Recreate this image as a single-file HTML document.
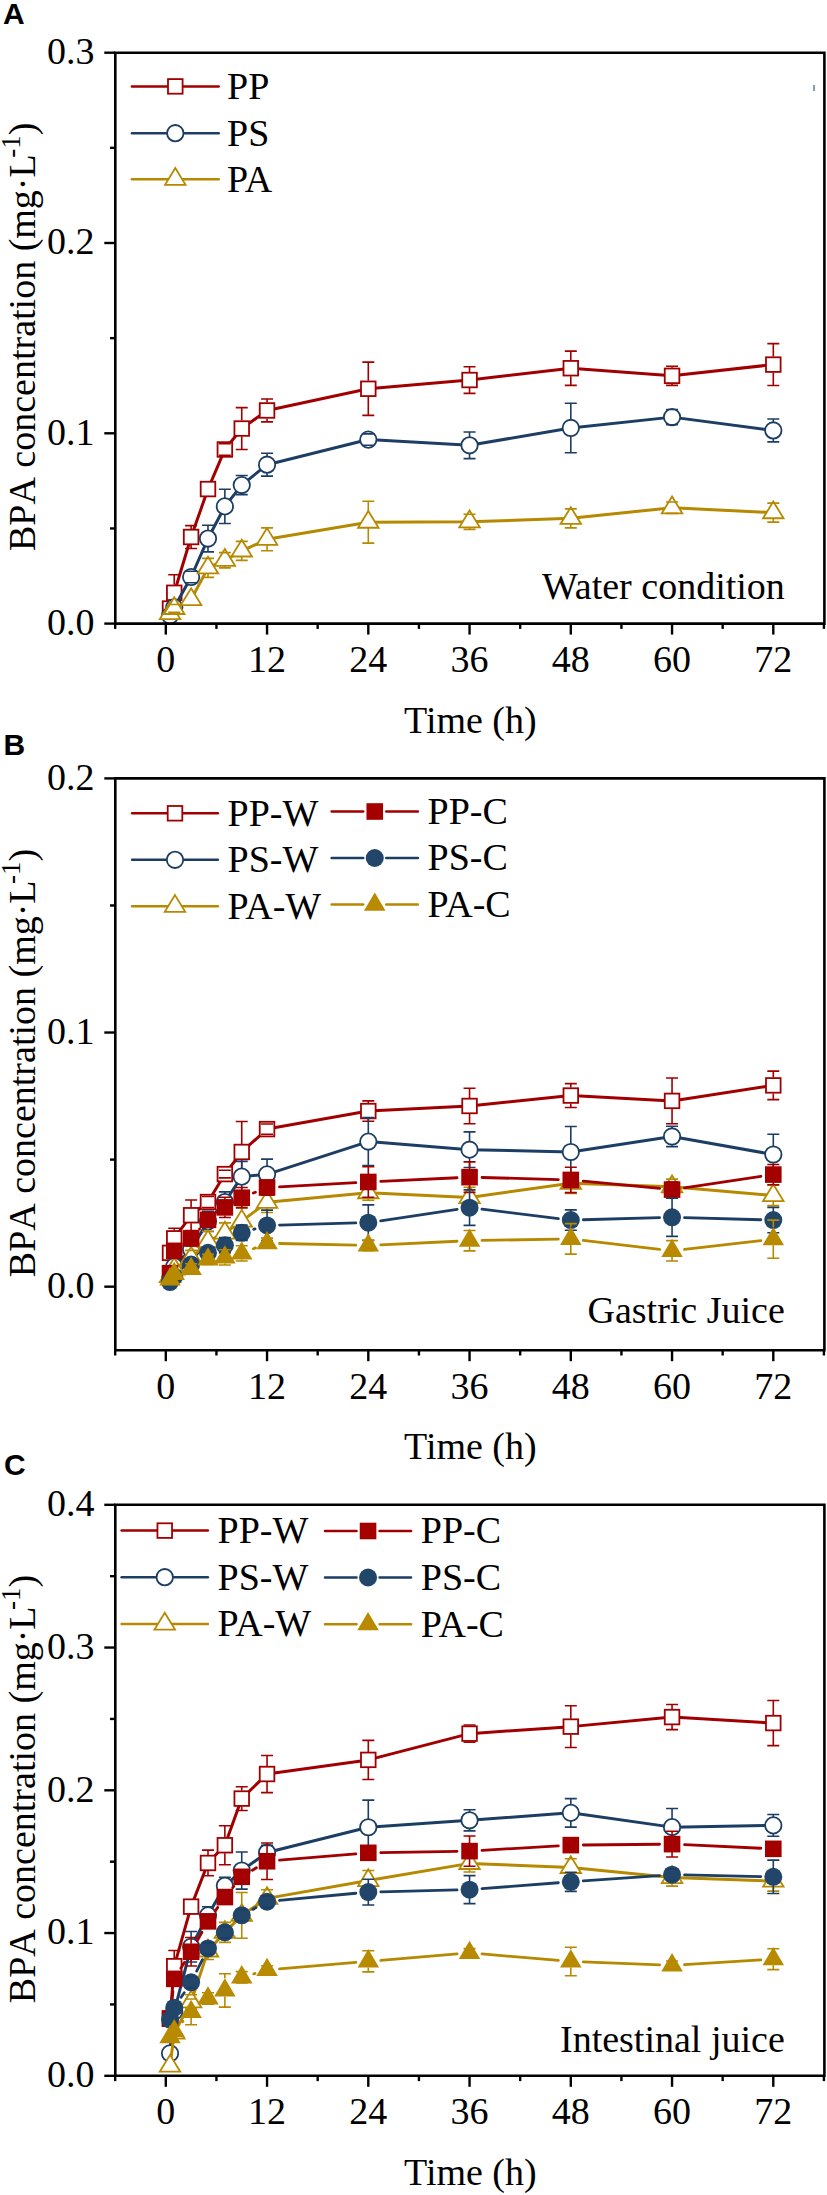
<!DOCTYPE html><html><head><meta charset="utf-8"><style>html,body{margin:0;padding:0;background:#fff;width:827px;height:2195px;overflow:hidden}svg{display:block}.nk{font-kerning:none;font-feature-settings:"kern" 0}</style></head><body>
<svg width="827" height="2195" viewBox="0 0 827 2195">
<rect width="827" height="2195" fill="#fff"/>
<path d="M170.02 608.57 L174.24 592.77 L191.11 537.01 L207.99 489.06 L224.86 449.48 L241.74 428.54 L267.05 410.46 L368.30 388.77 L469.55 380.02 L570.80 368.22 L672.05 375.83 L773.30 364.60" stroke="#a20000" stroke-width="3.0" fill="none" stroke-linejoin="round"/>
<rect x="162.72" y="601.27" width="14.60" height="14.60" fill="#fff" stroke="#a20000" stroke-width="1.8"/>
<rect x="166.94" y="585.47" width="14.60" height="14.60" fill="#fff" stroke="#a20000" stroke-width="1.8"/>
<rect x="183.81" y="529.71" width="14.60" height="14.60" fill="#fff" stroke="#a20000" stroke-width="1.8"/>
<rect x="200.69" y="481.76" width="14.60" height="14.60" fill="#fff" stroke="#a20000" stroke-width="1.8"/>
<rect x="217.56" y="442.18" width="14.60" height="14.60" fill="#fff" stroke="#a20000" stroke-width="1.8"/>
<rect x="234.44" y="421.24" width="14.60" height="14.60" fill="#fff" stroke="#a20000" stroke-width="1.8"/>
<rect x="259.75" y="403.16" width="14.60" height="14.60" fill="#fff" stroke="#a20000" stroke-width="1.8"/>
<rect x="361.00" y="381.47" width="14.60" height="14.60" fill="#fff" stroke="#a20000" stroke-width="1.8"/>
<rect x="462.25" y="372.72" width="14.60" height="14.60" fill="#fff" stroke="#a20000" stroke-width="1.8"/>
<rect x="563.50" y="360.92" width="14.60" height="14.60" fill="#fff" stroke="#a20000" stroke-width="1.8"/>
<rect x="664.75" y="368.53" width="14.60" height="14.60" fill="#fff" stroke="#a20000" stroke-width="1.8"/>
<rect x="766.00" y="357.30" width="14.60" height="14.60" fill="#fff" stroke="#a20000" stroke-width="1.8"/>
<path d="M168.24 574.69H180.24M168.24 610.85H180.24M174.24 574.69V584.77M174.24 600.77V610.85" stroke="#a20000" stroke-width="1.6" fill="none"/>
<path d="M185.11 525.60H197.11M185.11 548.43H197.11M191.11 525.60V529.01M191.11 545.01V548.43" stroke="#a20000" stroke-width="1.6" fill="none"/>
<path d="M218.86 443.77H230.86M218.86 455.18H230.86" stroke="#a20000" stroke-width="1.6" fill="none"/>
<path d="M235.74 407.61H247.74M235.74 449.48H247.74M241.74 407.61V420.54M241.74 436.54V449.48" stroke="#a20000" stroke-width="1.6" fill="none"/>
<path d="M261.05 399.05H273.05M261.05 421.88H273.05M267.05 399.05V402.46M267.05 418.46V421.88" stroke="#a20000" stroke-width="1.6" fill="none"/>
<path d="M362.30 362.13H374.30M362.30 415.41H374.30M368.30 362.13V380.77M368.30 396.77V415.41" stroke="#a20000" stroke-width="1.6" fill="none"/>
<path d="M463.55 366.69H475.55M463.55 393.34H475.55M469.55 366.69V372.02M469.55 388.02V393.34" stroke="#a20000" stroke-width="1.6" fill="none"/>
<path d="M564.80 351.09H576.80M564.80 385.34H576.80M570.80 351.09V360.22M570.80 376.22V385.34" stroke="#a20000" stroke-width="1.6" fill="none"/>
<path d="M666.05 366.31H678.05M666.05 385.34H678.05M672.05 366.31V367.83M672.05 383.83V385.34" stroke="#a20000" stroke-width="1.6" fill="none"/>
<path d="M767.30 343.67H779.30M767.30 385.53H779.30M773.30 343.67V356.60M773.30 372.60V385.53" stroke="#a20000" stroke-width="1.6" fill="none"/>
<path d="M170.02 615.61 L174.24 607.42 L191.11 576.98 L207.99 538.54 L224.86 506.38 L241.74 485.06 L267.05 464.70 L368.30 439.58 L469.55 445.29 L570.80 427.97 L672.05 417.12 L773.30 430.45" stroke="#1c3e64" stroke-width="3.0" fill="none" stroke-linejoin="round"/>
<circle cx="170.02" cy="615.61" r="8.2" fill="#fff" stroke="#1c3e64" stroke-width="1.8"/>
<circle cx="174.24" cy="607.42" r="8.2" fill="#fff" stroke="#1c3e64" stroke-width="1.8"/>
<circle cx="191.11" cy="576.98" r="8.2" fill="#fff" stroke="#1c3e64" stroke-width="1.8"/>
<circle cx="207.99" cy="538.54" r="8.2" fill="#fff" stroke="#1c3e64" stroke-width="1.8"/>
<circle cx="224.86" cy="506.38" r="8.2" fill="#fff" stroke="#1c3e64" stroke-width="1.8"/>
<circle cx="241.74" cy="485.06" r="8.2" fill="#fff" stroke="#1c3e64" stroke-width="1.8"/>
<circle cx="267.05" cy="464.70" r="8.2" fill="#fff" stroke="#1c3e64" stroke-width="1.8"/>
<circle cx="368.30" cy="439.58" r="8.2" fill="#fff" stroke="#1c3e64" stroke-width="1.8"/>
<circle cx="469.55" cy="445.29" r="8.2" fill="#fff" stroke="#1c3e64" stroke-width="1.8"/>
<circle cx="570.80" cy="427.97" r="8.2" fill="#fff" stroke="#1c3e64" stroke-width="1.8"/>
<circle cx="672.05" cy="417.12" r="8.2" fill="#fff" stroke="#1c3e64" stroke-width="1.8"/>
<circle cx="773.30" cy="430.45" r="8.2" fill="#fff" stroke="#1c3e64" stroke-width="1.8"/>
<path d="M185.11 571.27H197.11M185.11 582.69H197.11" stroke="#1c3e64" stroke-width="1.6" fill="none"/>
<path d="M201.99 525.21H213.99M201.99 551.86H213.99M207.99 525.21V530.54M207.99 546.54V551.86" stroke="#1c3e64" stroke-width="1.6" fill="none"/>
<path d="M218.86 489.25H230.86M218.86 523.50H230.86M224.86 489.25V498.38M224.86 514.38V523.50" stroke="#1c3e64" stroke-width="1.6" fill="none"/>
<path d="M235.74 475.55H247.74M235.74 494.58H247.74M241.74 475.55V477.06M241.74 493.06V494.58" stroke="#1c3e64" stroke-width="1.6" fill="none"/>
<path d="M261.05 453.28H273.05M261.05 476.12H273.05M267.05 453.28V456.70M267.05 472.70V476.12" stroke="#1c3e64" stroke-width="1.6" fill="none"/>
<path d="M362.30 433.87H374.30M362.30 445.29H374.30" stroke="#1c3e64" stroke-width="1.6" fill="none"/>
<path d="M463.55 431.97H475.55M463.55 458.61H475.55M469.55 431.97V437.29M469.55 453.29V458.61" stroke="#1c3e64" stroke-width="1.6" fill="none"/>
<path d="M564.80 403.23H576.80M564.80 452.71H576.80M570.80 403.23V419.97M570.80 435.97V452.71" stroke="#1c3e64" stroke-width="1.6" fill="none"/>
<path d="M666.05 409.51H678.05M666.05 424.74H678.05" stroke="#1c3e64" stroke-width="1.6" fill="none"/>
<path d="M767.30 419.03H779.30M767.30 441.86H779.30M773.30 419.03V422.45M773.30 438.45V441.86" stroke="#1c3e64" stroke-width="1.6" fill="none"/>
<path d="M170.02 613.51 L174.24 608.38 L191.11 599.43 L207.99 567.84 L224.86 560.23 L241.74 550.91 L267.05 539.30 L368.30 522.17 L469.55 521.79 L570.80 518.36 L672.05 507.71 L773.30 512.66" stroke="#b68900" stroke-width="3.0" fill="none" stroke-linejoin="round"/>
<path d="M170.02 602.31L180.27 619.11H159.77Z" fill="#fff" stroke="#b68900" stroke-width="1.8" stroke-linejoin="miter"/>
<path d="M174.24 597.18L184.49 613.98H163.99Z" fill="#fff" stroke="#b68900" stroke-width="1.8" stroke-linejoin="miter"/>
<path d="M191.11 588.23L201.36 605.03H180.86Z" fill="#fff" stroke="#b68900" stroke-width="1.8" stroke-linejoin="miter"/>
<path d="M207.99 556.64L218.24 573.44H197.74Z" fill="#fff" stroke="#b68900" stroke-width="1.8" stroke-linejoin="miter"/>
<path d="M224.86 549.03L235.11 565.83H214.61Z" fill="#fff" stroke="#b68900" stroke-width="1.8" stroke-linejoin="miter"/>
<path d="M241.74 539.71L251.99 556.51H231.49Z" fill="#fff" stroke="#b68900" stroke-width="1.8" stroke-linejoin="miter"/>
<path d="M267.05 528.10L277.30 544.90H256.80Z" fill="#fff" stroke="#b68900" stroke-width="1.8" stroke-linejoin="miter"/>
<path d="M368.30 510.97L378.55 527.77H358.05Z" fill="#fff" stroke="#b68900" stroke-width="1.8" stroke-linejoin="miter"/>
<path d="M469.55 510.59L479.80 527.39H459.30Z" fill="#fff" stroke="#b68900" stroke-width="1.8" stroke-linejoin="miter"/>
<path d="M570.80 507.16L581.05 523.96H560.55Z" fill="#fff" stroke="#b68900" stroke-width="1.8" stroke-linejoin="miter"/>
<path d="M672.05 496.51L682.30 513.31H661.80Z" fill="#fff" stroke="#b68900" stroke-width="1.8" stroke-linejoin="miter"/>
<path d="M773.30 501.46L783.55 518.26H763.05Z" fill="#fff" stroke="#b68900" stroke-width="1.8" stroke-linejoin="miter"/>
<path d="M168.24 604.57H180.24M168.24 612.18H180.24" stroke="#b68900" stroke-width="1.6" fill="none"/>
<path d="M201.99 558.33H213.99M201.99 577.36H213.99M207.99 573.44V577.36" stroke="#b68900" stroke-width="1.6" fill="none"/>
<path d="M218.86 552.62H230.86M218.86 567.84H230.86M224.86 565.83V567.84" stroke="#b68900" stroke-width="1.6" fill="none"/>
<path d="M235.74 541.39H247.74M235.74 560.42H247.74M241.74 556.51V560.42" stroke="#b68900" stroke-width="1.6" fill="none"/>
<path d="M261.05 527.88H273.05M261.05 550.72H273.05M267.05 527.88V528.10M267.05 544.90V550.72" stroke="#b68900" stroke-width="1.6" fill="none"/>
<path d="M362.30 501.24H374.30M362.30 543.10H374.30M368.30 501.24V510.97M368.30 527.77V543.10" stroke="#b68900" stroke-width="1.6" fill="none"/>
<path d="M463.55 514.18H475.55M463.55 529.40H475.55M469.55 527.39V529.40" stroke="#b68900" stroke-width="1.6" fill="none"/>
<path d="M564.80 508.85H576.80M564.80 527.88H576.80M570.80 523.96V527.88" stroke="#b68900" stroke-width="1.6" fill="none"/>
<path d="M666.05 502.00H678.05M666.05 513.42H678.05M672.05 513.31V513.42" stroke="#b68900" stroke-width="1.6" fill="none"/>
<path d="M767.30 503.14H779.30M767.30 522.17H779.30M773.30 518.26V522.17" stroke="#b68900" stroke-width="1.6" fill="none"/>
<path d="M115.3 52.7H824.4V623.6H115.3Z" stroke="#000" stroke-width="2.6" fill="none"/>
<path d="M104.30 623.60H115.3" stroke="#000" stroke-width="2.4"/>
<text x="94.5" y="634.90" text-anchor="end" font-family="Liberation Serif" font-size="38">0.0</text>
<path d="M110.00 528.45H115.3" stroke="#000" stroke-width="2.4"/>
<path d="M104.30 433.30H115.3" stroke="#000" stroke-width="2.4"/>
<text x="94.5" y="444.60" text-anchor="end" font-family="Liberation Serif" font-size="38">0.1</text>
<path d="M110.00 338.15H115.3" stroke="#000" stroke-width="2.4"/>
<path d="M104.30 243.00H115.3" stroke="#000" stroke-width="2.4"/>
<text x="94.5" y="254.30" text-anchor="end" font-family="Liberation Serif" font-size="38">0.2</text>
<path d="M110.00 147.85H115.3" stroke="#000" stroke-width="2.4"/>
<path d="M104.30 52.70H115.3" stroke="#000" stroke-width="2.4"/>
<text x="94.5" y="64.00" text-anchor="end" font-family="Liberation Serif" font-size="38">0.3</text>
<path d="M115.18 623.6V628.90" stroke="#000" stroke-width="2.4"/>
<path d="M165.80 623.6V634.60" stroke="#000" stroke-width="2.4"/>
<text x="165.80" y="672.20" text-anchor="middle" font-family="Liberation Serif" font-size="38">0</text>
<path d="M216.43 623.6V628.90" stroke="#000" stroke-width="2.4"/>
<path d="M267.05 623.6V634.60" stroke="#000" stroke-width="2.4"/>
<text x="267.05" y="672.20" text-anchor="middle" font-family="Liberation Serif" font-size="38">12</text>
<path d="M317.68 623.6V628.90" stroke="#000" stroke-width="2.4"/>
<path d="M368.30 623.6V634.60" stroke="#000" stroke-width="2.4"/>
<text x="368.30" y="672.20" text-anchor="middle" font-family="Liberation Serif" font-size="38">24</text>
<path d="M418.93 623.6V628.90" stroke="#000" stroke-width="2.4"/>
<path d="M469.55 623.6V634.60" stroke="#000" stroke-width="2.4"/>
<text x="469.55" y="672.20" text-anchor="middle" font-family="Liberation Serif" font-size="38">36</text>
<path d="M520.17 623.6V628.90" stroke="#000" stroke-width="2.4"/>
<path d="M570.80 623.6V634.60" stroke="#000" stroke-width="2.4"/>
<text x="570.80" y="672.20" text-anchor="middle" font-family="Liberation Serif" font-size="38">48</text>
<path d="M621.42 623.6V628.90" stroke="#000" stroke-width="2.4"/>
<path d="M672.05 623.6V634.60" stroke="#000" stroke-width="2.4"/>
<text x="672.05" y="672.20" text-anchor="middle" font-family="Liberation Serif" font-size="38">60</text>
<path d="M722.67 623.6V628.90" stroke="#000" stroke-width="2.4"/>
<path d="M773.30 623.6V634.60" stroke="#000" stroke-width="2.4"/>
<text x="773.30" y="672.20" text-anchor="middle" font-family="Liberation Serif" font-size="38">72</text>
<path d="M823.92 623.6V628.90" stroke="#000" stroke-width="2.4"/>
<text x="470.35" y="732.60" text-anchor="middle" font-family="Liberation Serif" font-size="38">Time (h)</text>
<text class="nk" transform="translate(35.3 336.85) rotate(-90)" text-anchor="middle" font-family="Liberation Serif" font-size="38">BPA concentration (mg·L<tspan dx="-3.5" dy="-15.5" font-size="27">-1</tspan><tspan dy="15">)</tspan></text>
<text x="3" y="23.60" font-family="Liberation Sans" font-weight="bold" font-size="30">A</text>
<text x="542.00" y="598.50" font-family="Liberation Serif" font-size="38">Water condition</text>
<path d="M131.9 86.4H218.7" stroke="#a20000" stroke-width="2.5" stroke-linecap="round"/>
<rect x="168.00" y="79.10" width="14.60" height="14.60" fill="#fff" stroke="#a20000" stroke-width="1.8"/>
<text x="227" y="98.70" font-family="Liberation Serif" font-size="38">PP</text>
<path d="M131.9 133.2H218.7" stroke="#1c3e64" stroke-width="2.5" stroke-linecap="round"/>
<circle cx="175.30" cy="133.20" r="8.2" fill="#fff" stroke="#1c3e64" stroke-width="1.8"/>
<text x="227" y="145.50" font-family="Liberation Serif" font-size="38">PS</text>
<path d="M131.9 179.2H218.7" stroke="#b68900" stroke-width="2.5" stroke-linecap="round"/>
<path d="M175.30 168.00L185.55 184.80H165.05Z" fill="#fff" stroke="#b68900" stroke-width="1.8" stroke-linejoin="miter"/>
<text x="227" y="191.50" font-family="Liberation Serif" font-size="38">PA</text>
<path d="M814 85V91" stroke="#1c3e64" stroke-width="1"/>
<path d="M170.02 1252.87 L174.24 1238.38 L191.11 1215.26 L207.99 1202.04 L224.86 1174.09 L241.74 1151.98 L267.05 1129.10 L368.30 1111.06 L469.55 1105.98 L570.80 1095.56 L672.05 1100.90 L773.30 1085.39" stroke="#a20000" stroke-width="3.0" fill="none" stroke-linejoin="round"/>
<rect x="162.72" y="1245.57" width="14.60" height="14.60" fill="#fff" stroke="#a20000" stroke-width="1.8"/>
<rect x="166.94" y="1231.08" width="14.60" height="14.60" fill="#fff" stroke="#a20000" stroke-width="1.8"/>
<rect x="183.81" y="1207.96" width="14.60" height="14.60" fill="#fff" stroke="#a20000" stroke-width="1.8"/>
<rect x="200.69" y="1194.74" width="14.60" height="14.60" fill="#fff" stroke="#a20000" stroke-width="1.8"/>
<rect x="217.56" y="1166.79" width="14.60" height="14.60" fill="#fff" stroke="#a20000" stroke-width="1.8"/>
<rect x="234.44" y="1144.68" width="14.60" height="14.60" fill="#fff" stroke="#a20000" stroke-width="1.8"/>
<rect x="259.75" y="1121.80" width="14.60" height="14.60" fill="#fff" stroke="#a20000" stroke-width="1.8"/>
<rect x="361.00" y="1103.76" width="14.60" height="14.60" fill="#fff" stroke="#a20000" stroke-width="1.8"/>
<rect x="462.25" y="1098.68" width="14.60" height="14.60" fill="#fff" stroke="#a20000" stroke-width="1.8"/>
<rect x="563.50" y="1088.26" width="14.60" height="14.60" fill="#fff" stroke="#a20000" stroke-width="1.8"/>
<rect x="664.75" y="1093.60" width="14.60" height="14.60" fill="#fff" stroke="#a20000" stroke-width="1.8"/>
<rect x="766.00" y="1078.09" width="14.60" height="14.60" fill="#fff" stroke="#a20000" stroke-width="1.8"/>
<path d="M168.24 1228.22H180.24M168.24 1248.55H180.24M174.24 1228.22V1230.38M174.24 1246.38V1248.55" stroke="#a20000" stroke-width="1.6" fill="none"/>
<path d="M185.11 1200.01H197.11M185.11 1230.50H197.11M191.11 1200.01V1207.26M191.11 1223.26V1230.50" stroke="#a20000" stroke-width="1.6" fill="none"/>
<path d="M201.99 1196.45H213.99M201.99 1207.63H213.99" stroke="#a20000" stroke-width="1.6" fill="none"/>
<path d="M218.86 1170.27H230.86M218.86 1177.90H230.86" stroke="#a20000" stroke-width="1.6" fill="none"/>
<path d="M235.74 1121.48H247.74M235.74 1182.47H247.74M241.74 1121.48V1143.98M241.74 1159.98V1182.47" stroke="#a20000" stroke-width="1.6" fill="none"/>
<path d="M261.05 1124.02H273.05M261.05 1134.19H273.05" stroke="#a20000" stroke-width="1.6" fill="none"/>
<path d="M362.30 1100.90H374.30M362.30 1121.23H374.30M368.30 1100.90V1103.06M368.30 1119.06V1121.23" stroke="#a20000" stroke-width="1.6" fill="none"/>
<path d="M463.55 1088.19H475.55M463.55 1123.77H475.55M469.55 1088.19V1097.98M469.55 1113.98V1123.77" stroke="#a20000" stroke-width="1.6" fill="none"/>
<path d="M564.80 1083.61H576.80M564.80 1107.50H576.80M570.80 1083.61V1087.56M570.80 1103.56V1107.50" stroke="#a20000" stroke-width="1.6" fill="none"/>
<path d="M666.05 1078.02H678.05M666.05 1123.77H678.05M672.05 1078.02V1092.90M672.05 1108.90V1123.77" stroke="#a20000" stroke-width="1.6" fill="none"/>
<path d="M767.30 1071.16H779.30M767.30 1099.62H779.30M773.30 1071.16V1077.39M773.30 1093.39V1099.62" stroke="#a20000" stroke-width="1.6" fill="none"/>
<path d="M170.02 1279.04 L174.24 1266.34 L191.11 1249.31 L207.99 1221.35 L224.86 1202.04 L241.74 1176.63 L267.05 1174.34 L368.30 1141.56 L469.55 1149.69 L570.80 1151.98 L672.05 1136.47 L773.30 1154.52" stroke="#1c3e64" stroke-width="3.0" fill="none" stroke-linejoin="round"/>
<circle cx="170.02" cy="1279.04" r="8.2" fill="#fff" stroke="#1c3e64" stroke-width="1.8"/>
<circle cx="174.24" cy="1266.34" r="8.2" fill="#fff" stroke="#1c3e64" stroke-width="1.8"/>
<circle cx="191.11" cy="1249.31" r="8.2" fill="#fff" stroke="#1c3e64" stroke-width="1.8"/>
<circle cx="207.99" cy="1221.35" r="8.2" fill="#fff" stroke="#1c3e64" stroke-width="1.8"/>
<circle cx="224.86" cy="1202.04" r="8.2" fill="#fff" stroke="#1c3e64" stroke-width="1.8"/>
<circle cx="241.74" cy="1176.63" r="8.2" fill="#fff" stroke="#1c3e64" stroke-width="1.8"/>
<circle cx="267.05" cy="1174.34" r="8.2" fill="#fff" stroke="#1c3e64" stroke-width="1.8"/>
<circle cx="368.30" cy="1141.56" r="8.2" fill="#fff" stroke="#1c3e64" stroke-width="1.8"/>
<circle cx="469.55" cy="1149.69" r="8.2" fill="#fff" stroke="#1c3e64" stroke-width="1.8"/>
<circle cx="570.80" cy="1151.98" r="8.2" fill="#fff" stroke="#1c3e64" stroke-width="1.8"/>
<circle cx="672.05" cy="1136.47" r="8.2" fill="#fff" stroke="#1c3e64" stroke-width="1.8"/>
<circle cx="773.30" cy="1154.52" r="8.2" fill="#fff" stroke="#1c3e64" stroke-width="1.8"/>
<path d="M185.11 1241.69H197.11M185.11 1256.93H197.11" stroke="#1c3e64" stroke-width="1.6" fill="none"/>
<path d="M201.99 1211.19H213.99M201.99 1231.52H213.99M207.99 1211.19V1213.35M207.99 1229.35V1231.52" stroke="#1c3e64" stroke-width="1.6" fill="none"/>
<path d="M218.86 1191.87H230.86M218.86 1212.21H230.86M224.86 1191.87V1194.04M224.86 1210.04V1212.21" stroke="#1c3e64" stroke-width="1.6" fill="none"/>
<path d="M235.74 1161.38H247.74M235.74 1191.87H247.74M241.74 1161.38V1168.63M241.74 1184.63V1191.87" stroke="#1c3e64" stroke-width="1.6" fill="none"/>
<path d="M261.05 1159.09H273.05M261.05 1189.59H273.05M267.05 1159.09V1166.34M267.05 1182.34V1189.59" stroke="#1c3e64" stroke-width="1.6" fill="none"/>
<path d="M362.30 1117.67H374.30M362.30 1165.45H374.30M368.30 1117.67V1133.56M368.30 1149.56V1165.45" stroke="#1c3e64" stroke-width="1.6" fill="none"/>
<path d="M463.55 1131.90H475.55M463.55 1167.48H475.55M469.55 1131.90V1141.69M469.55 1157.69V1167.48" stroke="#1c3e64" stroke-width="1.6" fill="none"/>
<path d="M564.80 1126.56H576.80M564.80 1177.39H576.80M570.80 1126.56V1143.98M570.80 1159.98V1177.39" stroke="#1c3e64" stroke-width="1.6" fill="none"/>
<path d="M666.05 1126.31H678.05M666.05 1146.64H678.05M672.05 1126.31V1128.47M672.05 1144.47V1146.64" stroke="#1c3e64" stroke-width="1.6" fill="none"/>
<path d="M767.30 1134.19H779.30M767.30 1174.85H779.30M773.30 1134.19V1146.52M773.30 1162.52V1174.85" stroke="#1c3e64" stroke-width="1.6" fill="none"/>
<path d="M170.02 1276.50 L174.24 1268.88 L191.11 1257.95 L207.99 1241.43 L224.86 1233.04 L241.74 1221.10 L267.05 1202.29 L368.30 1192.64 L469.55 1197.47 L570.80 1183.23 L672.05 1186.79 L773.30 1195.43" stroke="#b68900" stroke-width="3.0" fill="none" stroke-linejoin="round"/>
<path d="M170.02 1265.30L180.27 1282.10H159.77Z" fill="#fff" stroke="#b68900" stroke-width="1.8" stroke-linejoin="miter"/>
<path d="M174.24 1257.68L184.49 1274.48H163.99Z" fill="#fff" stroke="#b68900" stroke-width="1.8" stroke-linejoin="miter"/>
<path d="M191.11 1246.75L201.36 1263.55H180.86Z" fill="#fff" stroke="#b68900" stroke-width="1.8" stroke-linejoin="miter"/>
<path d="M207.99 1230.23L218.24 1247.03H197.74Z" fill="#fff" stroke="#b68900" stroke-width="1.8" stroke-linejoin="miter"/>
<path d="M224.86 1221.84L235.11 1238.64H214.61Z" fill="#fff" stroke="#b68900" stroke-width="1.8" stroke-linejoin="miter"/>
<path d="M241.74 1209.90L251.99 1226.70H231.49Z" fill="#fff" stroke="#b68900" stroke-width="1.8" stroke-linejoin="miter"/>
<path d="M267.05 1191.09L277.30 1207.89H256.80Z" fill="#fff" stroke="#b68900" stroke-width="1.8" stroke-linejoin="miter"/>
<path d="M368.30 1181.44L378.55 1198.24H358.05Z" fill="#fff" stroke="#b68900" stroke-width="1.8" stroke-linejoin="miter"/>
<path d="M469.55 1186.27L479.80 1203.07H459.30Z" fill="#fff" stroke="#b68900" stroke-width="1.8" stroke-linejoin="miter"/>
<path d="M570.80 1172.03L581.05 1188.83H560.55Z" fill="#fff" stroke="#b68900" stroke-width="1.8" stroke-linejoin="miter"/>
<path d="M672.05 1175.59L682.30 1192.39H661.80Z" fill="#fff" stroke="#b68900" stroke-width="1.8" stroke-linejoin="miter"/>
<path d="M773.30 1184.23L783.55 1201.03H763.05Z" fill="#fff" stroke="#b68900" stroke-width="1.8" stroke-linejoin="miter"/>
<path d="M185.11 1250.33H197.11M185.11 1265.57H197.11M191.11 1263.55V1265.57" stroke="#b68900" stroke-width="1.6" fill="none"/>
<path d="M201.99 1231.27H213.99M201.99 1251.60H213.99M207.99 1247.03V1251.60" stroke="#b68900" stroke-width="1.6" fill="none"/>
<path d="M218.86 1222.88H230.86M218.86 1243.21H230.86M224.86 1238.64V1243.21" stroke="#b68900" stroke-width="1.6" fill="none"/>
<path d="M235.74 1205.85H247.74M235.74 1236.35H247.74M241.74 1205.85V1209.90M241.74 1226.70V1236.35" stroke="#b68900" stroke-width="1.6" fill="none"/>
<path d="M261.05 1192.13H273.05M261.05 1212.46H273.05M267.05 1207.89V1212.46" stroke="#b68900" stroke-width="1.6" fill="none"/>
<path d="M362.30 1185.01H374.30M362.30 1200.26H374.30M368.30 1198.24V1200.26" stroke="#b68900" stroke-width="1.6" fill="none"/>
<path d="M463.55 1187.30H475.55M463.55 1207.63H475.55M469.55 1203.07V1207.63" stroke="#b68900" stroke-width="1.6" fill="none"/>
<path d="M564.80 1173.07H576.80M564.80 1193.40H576.80M570.80 1188.83V1193.40" stroke="#b68900" stroke-width="1.6" fill="none"/>
<path d="M666.05 1179.17H678.05M666.05 1194.42H678.05M672.05 1192.39V1194.42" stroke="#b68900" stroke-width="1.6" fill="none"/>
<path d="M767.30 1185.27H779.30M767.30 1205.60H779.30M773.30 1201.03V1205.60" stroke="#b68900" stroke-width="1.6" fill="none"/>
<path d="M199.52 1229.13L199.58 1229.08M253.34 1193.06L255.45 1192.21M279.53 1186.87L355.82 1182.65M380.79 1181.37L457.06 1177.73M482.05 1177.48L558.30 1179.59M583.24 1181.12L659.61 1188.40M684.42 1187.76L760.93 1176.42" stroke="#a20000" stroke-width="2.8" fill="none" stroke-linecap="round"/>
<rect x="161.72" y="1264.90" width="16.60" height="16.60" fill="#a40000"/>
<rect x="165.94" y="1242.53" width="16.60" height="16.60" fill="#a40000"/>
<rect x="182.81" y="1230.08" width="16.60" height="16.60" fill="#a40000"/>
<rect x="199.69" y="1211.53" width="16.60" height="16.60" fill="#a40000"/>
<rect x="216.56" y="1199.08" width="16.60" height="16.60" fill="#a40000"/>
<rect x="233.44" y="1189.42" width="16.60" height="16.60" fill="#a40000"/>
<rect x="258.75" y="1179.25" width="16.60" height="16.60" fill="#a40000"/>
<rect x="360.00" y="1173.66" width="16.60" height="16.60" fill="#a40000"/>
<rect x="461.25" y="1168.84" width="16.60" height="16.60" fill="#a40000"/>
<rect x="562.50" y="1171.63" width="16.60" height="16.60" fill="#a40000"/>
<rect x="663.75" y="1181.29" width="16.60" height="16.60" fill="#a40000"/>
<rect x="765.00" y="1166.29" width="16.60" height="16.60" fill="#a40000"/>
<path d="M185.11 1230.76H197.11M185.11 1246.01H197.11" stroke="#a20000" stroke-width="1.6" fill="none"/>
<path d="M201.99 1214.75H213.99M201.99 1224.91H213.99" stroke="#a20000" stroke-width="1.6" fill="none"/>
<path d="M218.86 1197.21H230.86M218.86 1217.54H230.86M224.86 1197.21V1199.38M224.86 1215.38V1217.54" stroke="#a20000" stroke-width="1.6" fill="none"/>
<path d="M235.74 1187.55H247.74M235.74 1207.89H247.74M241.74 1187.55V1189.72M241.74 1205.72V1207.89" stroke="#a20000" stroke-width="1.6" fill="none"/>
<path d="M261.05 1179.93H273.05M261.05 1195.18H273.05" stroke="#a20000" stroke-width="1.6" fill="none"/>
<path d="M362.30 1166.72H374.30M362.30 1197.21H374.30M368.30 1166.72V1173.96M368.30 1189.96V1197.21" stroke="#a20000" stroke-width="1.6" fill="none"/>
<path d="M463.55 1161.89H475.55M463.55 1192.38H475.55M469.55 1161.89V1169.14M469.55 1185.14V1192.38" stroke="#a20000" stroke-width="1.6" fill="none"/>
<path d="M564.80 1167.22H576.80M564.80 1192.64H576.80M570.80 1167.22V1171.93M570.80 1187.93V1192.64" stroke="#a20000" stroke-width="1.6" fill="none"/>
<path d="M666.05 1181.96H678.05M666.05 1197.21H678.05" stroke="#a20000" stroke-width="1.6" fill="none"/>
<path d="M767.30 1164.43H779.30M767.30 1184.76H779.30M773.30 1164.43V1166.59M773.30 1182.59V1184.76" stroke="#a20000" stroke-width="1.6" fill="none"/>
<path d="M253.74 1229.30L255.05 1228.91M279.55 1225.08L355.80 1222.97M380.67 1220.79L457.18 1209.46M481.96 1209.16L558.39 1218.56M583.30 1219.74L659.55 1217.63M684.55 1217.63L760.80 1219.74" stroke="#1c3e64" stroke-width="2.8" fill="none" stroke-linecap="round"/>
<circle cx="170.02" cy="1282.09" r="9" fill="#22456a"/>
<circle cx="174.24" cy="1276.50" r="9" fill="#22456a"/>
<circle cx="191.11" cy="1264.56" r="9" fill="#22456a"/>
<circle cx="207.99" cy="1252.87" r="9" fill="#22456a"/>
<circle cx="224.86" cy="1245.24" r="9" fill="#22456a"/>
<circle cx="241.74" cy="1232.79" r="9" fill="#22456a"/>
<circle cx="267.05" cy="1225.42" r="9" fill="#22456a"/>
<circle cx="368.30" cy="1222.63" r="9" fill="#22456a"/>
<circle cx="469.55" cy="1207.63" r="9" fill="#22456a"/>
<circle cx="570.80" cy="1220.08" r="9" fill="#22456a"/>
<circle cx="672.05" cy="1217.29" r="9" fill="#22456a"/>
<circle cx="773.30" cy="1220.08" r="9" fill="#22456a"/>
<path d="M185.11 1259.47H197.11M185.11 1269.64H197.11" stroke="#1c3e64" stroke-width="1.6" fill="none"/>
<path d="M201.99 1247.78H213.99M201.99 1257.95H213.99" stroke="#1c3e64" stroke-width="1.6" fill="none"/>
<path d="M218.86 1237.62H230.86M218.86 1252.87H230.86" stroke="#1c3e64" stroke-width="1.6" fill="none"/>
<path d="M235.74 1225.17H247.74M235.74 1240.41H247.74" stroke="#1c3e64" stroke-width="1.6" fill="none"/>
<path d="M261.05 1210.17H273.05M261.05 1240.67H273.05M267.05 1210.17V1217.42M267.05 1233.42V1240.67" stroke="#1c3e64" stroke-width="1.6" fill="none"/>
<path d="M362.30 1204.84H374.30M362.30 1240.41H374.30M368.30 1204.84V1214.63M368.30 1230.63V1240.41" stroke="#1c3e64" stroke-width="1.6" fill="none"/>
<path d="M463.55 1189.84H475.55M463.55 1225.42H475.55M469.55 1189.84V1199.63M469.55 1215.63V1225.42" stroke="#1c3e64" stroke-width="1.6" fill="none"/>
<path d="M564.80 1209.92H576.80M564.80 1230.25H576.80M570.80 1209.92V1212.08M570.80 1228.08V1230.25" stroke="#1c3e64" stroke-width="1.6" fill="none"/>
<path d="M666.05 1198.23H678.05M666.05 1236.35H678.05M672.05 1198.23V1209.29M672.05 1225.29V1236.35" stroke="#1c3e64" stroke-width="1.6" fill="none"/>
<path d="M767.30 1207.38H779.30M767.30 1232.79H779.30M773.30 1207.38V1212.08M773.30 1228.08V1232.79" stroke="#1c3e64" stroke-width="1.6" fill="none"/>
<path d="M253.34 1248.72L255.45 1247.87M279.55 1243.49L355.80 1245.21M380.79 1244.90L457.06 1241.26M482.05 1240.45L558.30 1239.11M583.21 1240.35L659.64 1249.37M684.47 1249.40L760.88 1240.58" stroke="#b68900" stroke-width="2.8" fill="none" stroke-linecap="round"/>
<path d="M170.02 1267.10L180.77 1285.40H159.27Z" fill="#b88a00"/>
<path d="M174.24 1261.76L184.99 1280.06H163.49Z" fill="#b88a00"/>
<path d="M191.11 1256.68L201.86 1274.98H180.36Z" fill="#b88a00"/>
<path d="M207.99 1247.27L218.74 1265.57H197.24Z" fill="#b88a00"/>
<path d="M224.86 1245.24L235.61 1263.54H214.11Z" fill="#b88a00"/>
<path d="M241.74 1241.18L252.49 1259.48H230.99Z" fill="#b88a00"/>
<path d="M267.05 1231.01L277.80 1249.31H256.30Z" fill="#b88a00"/>
<path d="M368.30 1233.30L379.05 1251.60H357.55Z" fill="#b88a00"/>
<path d="M469.55 1228.47L480.30 1246.77H458.80Z" fill="#b88a00"/>
<path d="M570.80 1226.69L581.55 1244.99H560.05Z" fill="#b88a00"/>
<path d="M672.05 1238.63L682.80 1256.93H661.30Z" fill="#b88a00"/>
<path d="M773.30 1226.94L784.05 1245.24H762.55Z" fill="#b88a00"/>
<path d="M185.11 1263.79H197.11M185.11 1273.96H197.11" stroke="#b68900" stroke-width="1.6" fill="none"/>
<path d="M201.99 1254.39H213.99M201.99 1264.56H213.99" stroke="#b68900" stroke-width="1.6" fill="none"/>
<path d="M218.86 1249.82H230.86M218.86 1265.07H230.86M224.86 1263.54V1265.07" stroke="#b68900" stroke-width="1.6" fill="none"/>
<path d="M235.74 1245.75H247.74M235.74 1261.00H247.74M241.74 1259.48V1261.00" stroke="#b68900" stroke-width="1.6" fill="none"/>
<path d="M261.05 1238.13H273.05M261.05 1248.29H273.05" stroke="#b68900" stroke-width="1.6" fill="none"/>
<path d="M362.30 1240.41H374.30M362.30 1250.58H374.30" stroke="#b68900" stroke-width="1.6" fill="none"/>
<path d="M463.55 1230.50H475.55M463.55 1250.83H475.55M469.55 1246.77V1250.83" stroke="#b68900" stroke-width="1.6" fill="none"/>
<path d="M564.80 1223.64H576.80M564.80 1254.14H576.80M570.80 1223.64V1226.69M570.80 1244.99V1254.14" stroke="#b68900" stroke-width="1.6" fill="none"/>
<path d="M666.05 1240.67H678.05M666.05 1261.00H678.05M672.05 1256.93V1261.00" stroke="#b68900" stroke-width="1.6" fill="none"/>
<path d="M767.30 1220.08H779.30M767.30 1258.20H779.30M773.30 1220.08V1226.94M773.30 1245.24V1258.20" stroke="#b68900" stroke-width="1.6" fill="none"/>
<path d="M115.3 778.4H824.4V1350.2H115.3Z" stroke="#000" stroke-width="2.6" fill="none"/>
<path d="M104.30 1286.67H115.3" stroke="#000" stroke-width="2.4"/>
<text x="94.5" y="1297.97" text-anchor="end" font-family="Liberation Serif" font-size="38">0.0</text>
<path d="M110.00 1159.60H115.3" stroke="#000" stroke-width="2.4"/>
<path d="M104.30 1032.53H115.3" stroke="#000" stroke-width="2.4"/>
<text x="94.5" y="1043.83" text-anchor="end" font-family="Liberation Serif" font-size="38">0.1</text>
<path d="M110.00 905.47H115.3" stroke="#000" stroke-width="2.4"/>
<path d="M104.30 778.40H115.3" stroke="#000" stroke-width="2.4"/>
<text x="94.5" y="789.70" text-anchor="end" font-family="Liberation Serif" font-size="38">0.2</text>
<path d="M115.18 1350.2V1355.50" stroke="#000" stroke-width="2.4"/>
<path d="M165.80 1350.2V1361.20" stroke="#000" stroke-width="2.4"/>
<text x="165.80" y="1398.80" text-anchor="middle" font-family="Liberation Serif" font-size="38">0</text>
<path d="M216.43 1350.2V1355.50" stroke="#000" stroke-width="2.4"/>
<path d="M267.05 1350.2V1361.20" stroke="#000" stroke-width="2.4"/>
<text x="267.05" y="1398.80" text-anchor="middle" font-family="Liberation Serif" font-size="38">12</text>
<path d="M317.68 1350.2V1355.50" stroke="#000" stroke-width="2.4"/>
<path d="M368.30 1350.2V1361.20" stroke="#000" stroke-width="2.4"/>
<text x="368.30" y="1398.80" text-anchor="middle" font-family="Liberation Serif" font-size="38">24</text>
<path d="M418.93 1350.2V1355.50" stroke="#000" stroke-width="2.4"/>
<path d="M469.55 1350.2V1361.20" stroke="#000" stroke-width="2.4"/>
<text x="469.55" y="1398.80" text-anchor="middle" font-family="Liberation Serif" font-size="38">36</text>
<path d="M520.17 1350.2V1355.50" stroke="#000" stroke-width="2.4"/>
<path d="M570.80 1350.2V1361.20" stroke="#000" stroke-width="2.4"/>
<text x="570.80" y="1398.80" text-anchor="middle" font-family="Liberation Serif" font-size="38">48</text>
<path d="M621.42 1350.2V1355.50" stroke="#000" stroke-width="2.4"/>
<path d="M672.05 1350.2V1361.20" stroke="#000" stroke-width="2.4"/>
<text x="672.05" y="1398.80" text-anchor="middle" font-family="Liberation Serif" font-size="38">60</text>
<path d="M722.67 1350.2V1355.50" stroke="#000" stroke-width="2.4"/>
<path d="M773.30 1350.2V1361.20" stroke="#000" stroke-width="2.4"/>
<text x="773.30" y="1398.80" text-anchor="middle" font-family="Liberation Serif" font-size="38">72</text>
<path d="M823.92 1350.2V1355.50" stroke="#000" stroke-width="2.4"/>
<text x="470.35" y="1459.20" text-anchor="middle" font-family="Liberation Serif" font-size="38">Time (h)</text>
<text class="nk" transform="translate(35.3 1063.00) rotate(-90)" text-anchor="middle" font-family="Liberation Serif" font-size="38">BPA concentration (mg·L<tspan dx="-3.5" dy="-15.5" font-size="27">-1</tspan><tspan dy="15">)</tspan></text>
<text x="3.6" y="755.00" font-family="Liberation Sans" font-weight="bold" font-size="30">B</text>
<text x="587.50" y="1322.90" font-family="Liberation Serif" font-size="38">Gastric Juice</text>
<path d="M132.1 813.3H217.9" stroke="#a20000" stroke-width="2.5" stroke-linecap="round"/>
<rect x="167.70" y="806.00" width="14.60" height="14.60" fill="#fff" stroke="#a20000" stroke-width="1.8"/>
<text x="227.6" y="825.60" font-family="Liberation Serif" font-size="38">PP-W</text>
<path d="M132.1 859.8H217.9" stroke="#1c3e64" stroke-width="2.5" stroke-linecap="round"/>
<circle cx="175.00" cy="859.80" r="8.2" fill="#fff" stroke="#1c3e64" stroke-width="1.8"/>
<text x="227.6" y="872.10" font-family="Liberation Serif" font-size="38">PS-W</text>
<path d="M132.1 906.3H217.9" stroke="#b68900" stroke-width="2.5" stroke-linecap="round"/>
<path d="M175.00 895.10L185.25 911.90H164.75Z" fill="#fff" stroke="#b68900" stroke-width="1.8" stroke-linejoin="miter"/>
<text x="227.6" y="918.60" font-family="Liberation Serif" font-size="38">PA-W</text>
<path d="M331.6 811.5H363.25M386.25 811.5H417.9" stroke="#a20000" stroke-width="2.5" stroke-linecap="round"/>
<rect x="366.45" y="803.20" width="16.60" height="16.60" fill="#a40000"/>
<text x="427.6" y="823.80" font-family="Liberation Serif" font-size="38">PP-C</text>
<path d="M331.6 858.0H363.25M386.25 858.0H417.9" stroke="#1c3e64" stroke-width="2.5" stroke-linecap="round"/>
<circle cx="374.75" cy="858.00" r="9" fill="#22456a"/>
<text x="427.6" y="870.30" font-family="Liberation Serif" font-size="38">PS-C</text>
<path d="M331.6 904.6H363.25M386.25 904.6H417.9" stroke="#b68900" stroke-width="2.5" stroke-linecap="round"/>
<path d="M374.75 892.40L385.50 910.70H364.00Z" fill="#b88a00"/>
<text x="427.6" y="916.90" font-family="Liberation Serif" font-size="38">PA-C</text>
<path d="M170.02 2018.41 L174.24 1966.17 L191.11 1906.64 L207.99 1862.96 L224.86 1845.26 L241.74 1798.58 L267.05 1774.03 L368.30 1759.89 L469.55 1733.63 L570.80 1726.63 L672.05 1717.07 L773.30 1723.06" stroke="#a20000" stroke-width="3.0" fill="none" stroke-linejoin="round"/>
<rect x="162.72" y="2011.11" width="14.60" height="14.60" fill="#fff" stroke="#a20000" stroke-width="1.8"/>
<rect x="166.94" y="1958.87" width="14.60" height="14.60" fill="#fff" stroke="#a20000" stroke-width="1.8"/>
<rect x="183.81" y="1899.34" width="14.60" height="14.60" fill="#fff" stroke="#a20000" stroke-width="1.8"/>
<rect x="200.69" y="1855.66" width="14.60" height="14.60" fill="#fff" stroke="#a20000" stroke-width="1.8"/>
<rect x="217.56" y="1837.96" width="14.60" height="14.60" fill="#fff" stroke="#a20000" stroke-width="1.8"/>
<rect x="234.44" y="1791.28" width="14.60" height="14.60" fill="#fff" stroke="#a20000" stroke-width="1.8"/>
<rect x="259.75" y="1766.73" width="14.60" height="14.60" fill="#fff" stroke="#a20000" stroke-width="1.8"/>
<rect x="361.00" y="1752.59" width="14.60" height="14.60" fill="#fff" stroke="#a20000" stroke-width="1.8"/>
<rect x="462.25" y="1726.33" width="14.60" height="14.60" fill="#fff" stroke="#a20000" stroke-width="1.8"/>
<rect x="563.50" y="1719.33" width="14.60" height="14.60" fill="#fff" stroke="#a20000" stroke-width="1.8"/>
<rect x="664.75" y="1709.77" width="14.60" height="14.60" fill="#fff" stroke="#a20000" stroke-width="1.8"/>
<rect x="766.00" y="1715.76" width="14.60" height="14.60" fill="#fff" stroke="#a20000" stroke-width="1.8"/>
<path d="M168.24 1950.47H180.24M168.24 1981.87H180.24M174.24 1950.47V1958.17M174.24 1974.17V1981.87" stroke="#a20000" stroke-width="1.6" fill="none"/>
<path d="M201.99 1850.11H213.99M201.99 1875.81H213.99M207.99 1850.11V1854.96M207.99 1870.96V1875.81" stroke="#a20000" stroke-width="1.6" fill="none"/>
<path d="M218.86 1825.70H230.86M218.86 1864.82H230.86M224.86 1825.70V1837.26M224.86 1853.26V1864.82" stroke="#a20000" stroke-width="1.6" fill="none"/>
<path d="M235.74 1786.73H247.74M235.74 1810.43H247.74M241.74 1786.73V1790.58M241.74 1806.58V1810.43" stroke="#a20000" stroke-width="1.6" fill="none"/>
<path d="M261.05 1755.47H273.05M261.05 1792.58H273.05M267.05 1755.47V1766.03M267.05 1782.03V1792.58" stroke="#a20000" stroke-width="1.6" fill="none"/>
<path d="M362.30 1740.34H374.30M362.30 1779.45H374.30M368.30 1740.34V1751.89M368.30 1767.89V1779.45" stroke="#a20000" stroke-width="1.6" fill="none"/>
<path d="M463.55 1725.06H475.55M463.55 1742.19H475.55M469.55 1725.06V1725.63M469.55 1741.63V1742.19" stroke="#a20000" stroke-width="1.6" fill="none"/>
<path d="M564.80 1705.79H576.80M564.80 1747.47H576.80M570.80 1705.79V1718.63M570.80 1734.63V1747.47" stroke="#a20000" stroke-width="1.6" fill="none"/>
<path d="M666.05 1704.51H678.05M666.05 1729.63H678.05M672.05 1704.51V1709.07M672.05 1725.07V1729.63" stroke="#a20000" stroke-width="1.6" fill="none"/>
<path d="M767.30 1700.51H779.30M767.30 1745.62H779.30M773.30 1700.51V1715.06M773.30 1731.06V1745.62" stroke="#a20000" stroke-width="1.6" fill="none"/>
<path d="M170.02 2053.39 L174.24 2011.56 L191.11 1946.75 L207.99 1915.35 L224.86 1885.80 L241.74 1870.53 L267.05 1852.54 L368.30 1827.27 L469.55 1820.28 L570.80 1812.85 L672.05 1827.13 L773.30 1825.42" stroke="#1c3e64" stroke-width="3.0" fill="none" stroke-linejoin="round"/>
<circle cx="170.02" cy="2053.39" r="8.2" fill="#fff" stroke="#1c3e64" stroke-width="1.8"/>
<circle cx="174.24" cy="2011.56" r="8.2" fill="#fff" stroke="#1c3e64" stroke-width="1.8"/>
<circle cx="191.11" cy="1946.75" r="8.2" fill="#fff" stroke="#1c3e64" stroke-width="1.8"/>
<circle cx="207.99" cy="1915.35" r="8.2" fill="#fff" stroke="#1c3e64" stroke-width="1.8"/>
<circle cx="224.86" cy="1885.80" r="8.2" fill="#fff" stroke="#1c3e64" stroke-width="1.8"/>
<circle cx="241.74" cy="1870.53" r="8.2" fill="#fff" stroke="#1c3e64" stroke-width="1.8"/>
<circle cx="267.05" cy="1852.54" r="8.2" fill="#fff" stroke="#1c3e64" stroke-width="1.8"/>
<circle cx="368.30" cy="1827.27" r="8.2" fill="#fff" stroke="#1c3e64" stroke-width="1.8"/>
<circle cx="469.55" cy="1820.28" r="8.2" fill="#fff" stroke="#1c3e64" stroke-width="1.8"/>
<circle cx="570.80" cy="1812.85" r="8.2" fill="#fff" stroke="#1c3e64" stroke-width="1.8"/>
<circle cx="672.05" cy="1827.13" r="8.2" fill="#fff" stroke="#1c3e64" stroke-width="1.8"/>
<circle cx="773.30" cy="1825.42" r="8.2" fill="#fff" stroke="#1c3e64" stroke-width="1.8"/>
<path d="M164.02 2039.11H176.02M164.02 2067.66H176.02M170.02 2039.11V2045.39M170.02 2061.39V2067.66" stroke="#1c3e64" stroke-width="1.6" fill="none"/>
<path d="M185.11 1931.48H197.11M185.11 1962.03H197.11M191.11 1931.48V1938.75M191.11 1954.75V1962.03" stroke="#1c3e64" stroke-width="1.6" fill="none"/>
<path d="M201.99 1906.78H213.99M201.99 1923.91H213.99M207.99 1906.78V1907.35M207.99 1923.35V1923.91" stroke="#1c3e64" stroke-width="1.6" fill="none"/>
<path d="M218.86 1877.23H230.86M218.86 1894.36H230.86M224.86 1877.23V1877.80M224.86 1893.80V1894.36" stroke="#1c3e64" stroke-width="1.6" fill="none"/>
<path d="M235.74 1851.97H247.74M235.74 1889.08H247.74M241.74 1851.97V1862.53M241.74 1878.53V1889.08" stroke="#1c3e64" stroke-width="1.6" fill="none"/>
<path d="M261.05 1845.40H273.05M261.05 1859.68H273.05" stroke="#1c3e64" stroke-width="1.6" fill="none"/>
<path d="M362.30 1800.15H374.30M362.30 1854.39H374.30M368.30 1800.15V1819.27M368.30 1835.27V1854.39" stroke="#1c3e64" stroke-width="1.6" fill="none"/>
<path d="M463.55 1809.71H475.55M463.55 1830.84H475.55M469.55 1809.71V1812.28M469.55 1828.28V1830.84" stroke="#1c3e64" stroke-width="1.6" fill="none"/>
<path d="M564.80 1798.58H576.80M564.80 1827.13H576.80M570.80 1798.58V1804.85M570.80 1820.85V1827.13" stroke="#1c3e64" stroke-width="1.6" fill="none"/>
<path d="M666.05 1808.57H678.05M666.05 1845.69H678.05M672.05 1808.57V1819.13M672.05 1835.13V1845.69" stroke="#1c3e64" stroke-width="1.6" fill="none"/>
<path d="M767.30 1814.57H779.30M767.30 1836.27H779.30M773.30 1814.57V1817.42M773.30 1833.42V1836.27" stroke="#1c3e64" stroke-width="1.6" fill="none"/>
<path d="M170.02 2066.09 L174.24 2032.98 L191.11 2001.86 L207.99 1950.89 L224.86 1932.34 L241.74 1915.35 L267.05 1898.36 L368.30 1880.52 L469.55 1863.39 L570.80 1867.39 L672.05 1877.52 L773.30 1881.09" stroke="#b68900" stroke-width="3.0" fill="none" stroke-linejoin="round"/>
<path d="M170.02 2054.89L180.27 2071.69H159.77Z" fill="#fff" stroke="#b68900" stroke-width="1.8" stroke-linejoin="miter"/>
<path d="M174.24 2021.78L184.49 2038.58H163.99Z" fill="#fff" stroke="#b68900" stroke-width="1.8" stroke-linejoin="miter"/>
<path d="M191.11 1990.66L201.36 2007.46H180.86Z" fill="#fff" stroke="#b68900" stroke-width="1.8" stroke-linejoin="miter"/>
<path d="M207.99 1939.69L218.24 1956.49H197.74Z" fill="#fff" stroke="#b68900" stroke-width="1.8" stroke-linejoin="miter"/>
<path d="M224.86 1921.14L235.11 1937.94H214.61Z" fill="#fff" stroke="#b68900" stroke-width="1.8" stroke-linejoin="miter"/>
<path d="M241.74 1904.15L251.99 1920.95H231.49Z" fill="#fff" stroke="#b68900" stroke-width="1.8" stroke-linejoin="miter"/>
<path d="M267.05 1887.16L277.30 1903.96H256.80Z" fill="#fff" stroke="#b68900" stroke-width="1.8" stroke-linejoin="miter"/>
<path d="M368.30 1869.32L378.55 1886.12H358.05Z" fill="#fff" stroke="#b68900" stroke-width="1.8" stroke-linejoin="miter"/>
<path d="M469.55 1852.19L479.80 1868.99H459.30Z" fill="#fff" stroke="#b68900" stroke-width="1.8" stroke-linejoin="miter"/>
<path d="M570.80 1856.19L581.05 1872.99H560.55Z" fill="#fff" stroke="#b68900" stroke-width="1.8" stroke-linejoin="miter"/>
<path d="M672.05 1866.32L682.30 1883.12H661.80Z" fill="#fff" stroke="#b68900" stroke-width="1.8" stroke-linejoin="miter"/>
<path d="M773.30 1869.89L783.55 1886.69H763.05Z" fill="#fff" stroke="#b68900" stroke-width="1.8" stroke-linejoin="miter"/>
<path d="M185.11 1994.72H197.11M185.11 2008.99H197.11M191.11 2007.46V2008.99" stroke="#b68900" stroke-width="1.6" fill="none"/>
<path d="M201.99 1942.33H213.99M201.99 1959.46H213.99M207.99 1956.49V1959.46" stroke="#b68900" stroke-width="1.6" fill="none"/>
<path d="M218.86 1922.34H230.86M218.86 1942.33H230.86M224.86 1937.94V1942.33" stroke="#b68900" stroke-width="1.6" fill="none"/>
<path d="M235.74 1892.51H247.74M235.74 1938.19H247.74M241.74 1892.51V1904.15M241.74 1920.95V1938.19" stroke="#b68900" stroke-width="1.6" fill="none"/>
<path d="M261.05 1889.80H273.05M261.05 1906.93H273.05M267.05 1903.96V1906.93" stroke="#b68900" stroke-width="1.6" fill="none"/>
<path d="M362.30 1870.53H374.30M362.30 1890.51H374.30M368.30 1886.12V1890.51" stroke="#b68900" stroke-width="1.6" fill="none"/>
<path d="M463.55 1854.82H475.55M463.55 1871.95H475.55M469.55 1868.99V1871.95" stroke="#b68900" stroke-width="1.6" fill="none"/>
<path d="M564.80 1858.82H576.80M564.80 1875.95H576.80M570.80 1872.99V1875.95" stroke="#b68900" stroke-width="1.6" fill="none"/>
<path d="M666.05 1868.96H678.05M666.05 1886.09H678.05M672.05 1883.12V1886.09" stroke="#b68900" stroke-width="1.6" fill="none"/>
<path d="M767.30 1871.10H779.30M767.30 1891.08H779.30M773.30 1886.69V1891.08" stroke="#b68900" stroke-width="1.6" fill="none"/>
<path d="M171.34 2006.27L172.92 1991.30M180.84 1968.26L184.51 1962.36M197.18 1940.82L201.92 1932.27M215.12 1911.08L217.73 1907.34M232.86 1887.47L233.74 1886.41M252.39 1870.26L256.40 1867.79M279.51 1860.21L355.84 1853.86M380.80 1852.61L457.05 1851.32M482.03 1850.37L558.32 1845.85M583.30 1844.99L659.55 1844.24M684.54 1844.70L760.81 1848.25" stroke="#a20000" stroke-width="2.8" fill="none" stroke-linecap="round"/>
<rect x="161.72" y="2010.40" width="16.60" height="16.60" fill="#a40000"/>
<rect x="165.94" y="1970.57" width="16.60" height="16.60" fill="#a40000"/>
<rect x="182.81" y="1943.45" width="16.60" height="16.60" fill="#a40000"/>
<rect x="199.69" y="1913.04" width="16.60" height="16.60" fill="#a40000"/>
<rect x="216.56" y="1888.78" width="16.60" height="16.60" fill="#a40000"/>
<rect x="233.44" y="1868.51" width="16.60" height="16.60" fill="#a40000"/>
<rect x="258.75" y="1852.95" width="16.60" height="16.60" fill="#a40000"/>
<rect x="360.00" y="1844.52" width="16.60" height="16.60" fill="#a40000"/>
<rect x="461.25" y="1842.81" width="16.60" height="16.60" fill="#a40000"/>
<rect x="562.50" y="1836.82" width="16.60" height="16.60" fill="#a40000"/>
<rect x="663.75" y="1835.82" width="16.60" height="16.60" fill="#a40000"/>
<rect x="765.00" y="1840.53" width="16.60" height="16.60" fill="#a40000"/>
<path d="M185.11 1937.48H197.11M185.11 1966.03H197.11M191.11 1937.48V1943.75M191.11 1959.75V1966.03" stroke="#a20000" stroke-width="1.6" fill="none"/>
<path d="M201.99 1915.63H213.99M201.99 1927.05H213.99" stroke="#a20000" stroke-width="1.6" fill="none"/>
<path d="M218.86 1891.37H230.86M218.86 1902.79H230.86" stroke="#a20000" stroke-width="1.6" fill="none"/>
<path d="M235.74 1871.10H247.74M235.74 1882.52H247.74" stroke="#a20000" stroke-width="1.6" fill="none"/>
<path d="M261.05 1842.97H273.05M261.05 1879.52H273.05M267.05 1842.97V1853.25M267.05 1869.25V1879.52" stroke="#a20000" stroke-width="1.6" fill="none"/>
<path d="M362.30 1847.11H374.30M362.30 1858.53H374.30" stroke="#a20000" stroke-width="1.6" fill="none"/>
<path d="M463.55 1835.98H475.55M463.55 1866.24H475.55M469.55 1835.98V1843.11M469.55 1859.11V1866.24" stroke="#a20000" stroke-width="1.6" fill="none"/>
<path d="M564.80 1839.41H576.80M564.80 1850.83H576.80" stroke="#a20000" stroke-width="1.6" fill="none"/>
<path d="M666.05 1831.27H678.05M666.05 1856.96H678.05M672.05 1831.27V1836.12M672.05 1852.12V1856.96" stroke="#a20000" stroke-width="1.6" fill="none"/>
<path d="M767.30 1843.12H779.30M767.30 1854.54H779.30" stroke="#a20000" stroke-width="1.6" fill="none"/>
<path d="M181.15 1997.30L184.20 1992.71M196.69 1971.11L202.41 1959.65M252.73 1909.40L256.06 1907.60M279.49 1900.47L355.86 1893.26M380.80 1891.78L457.05 1889.95M482.01 1888.69L558.34 1882.77M583.27 1880.92L659.58 1875.54M684.55 1874.93L760.80 1876.54" stroke="#1c3e64" stroke-width="2.8" fill="none" stroke-linecap="round"/>
<circle cx="170.02" cy="2019.56" r="9" fill="#22456a"/>
<circle cx="174.24" cy="2007.71" r="9" fill="#22456a"/>
<circle cx="191.11" cy="1982.30" r="9" fill="#22456a"/>
<circle cx="207.99" cy="1948.47" r="9" fill="#22456a"/>
<circle cx="224.86" cy="1932.34" r="9" fill="#22456a"/>
<circle cx="241.74" cy="1915.35" r="9" fill="#22456a"/>
<circle cx="267.05" cy="1901.65" r="9" fill="#22456a"/>
<circle cx="368.30" cy="1892.08" r="9" fill="#22456a"/>
<circle cx="469.55" cy="1889.65" r="9" fill="#22456a"/>
<circle cx="570.80" cy="1881.80" r="9" fill="#22456a"/>
<circle cx="672.05" cy="1874.67" r="9" fill="#22456a"/>
<circle cx="773.30" cy="1876.81" r="9" fill="#22456a"/>
<path d="M185.11 1976.59H197.11M185.11 1988.01H197.11" stroke="#1c3e64" stroke-width="1.6" fill="none"/>
<path d="M201.99 1942.76H213.99M201.99 1954.18H213.99" stroke="#1c3e64" stroke-width="1.6" fill="none"/>
<path d="M218.86 1926.63H230.86M218.86 1938.05H230.86" stroke="#1c3e64" stroke-width="1.6" fill="none"/>
<path d="M235.74 1909.64H247.74M235.74 1921.06H247.74" stroke="#1c3e64" stroke-width="1.6" fill="none"/>
<path d="M261.05 1895.94H273.05M261.05 1907.36H273.05" stroke="#1c3e64" stroke-width="1.6" fill="none"/>
<path d="M362.30 1879.23H374.30M362.30 1904.93H374.30M368.30 1879.23V1884.08M368.30 1900.08V1904.93" stroke="#1c3e64" stroke-width="1.6" fill="none"/>
<path d="M463.55 1875.66H475.55M463.55 1903.64H475.55M469.55 1875.66V1881.65M469.55 1897.65V1903.64" stroke="#1c3e64" stroke-width="1.6" fill="none"/>
<path d="M564.80 1872.24H576.80M564.80 1891.37H576.80M570.80 1872.24V1873.80M570.80 1889.80V1891.37" stroke="#1c3e64" stroke-width="1.6" fill="none"/>
<path d="M666.05 1868.96H678.05M666.05 1880.38H678.05" stroke="#1c3e64" stroke-width="1.6" fill="none"/>
<path d="M767.30 1860.10H779.30M767.30 1893.51H779.30M773.30 1860.10V1868.81M773.30 1884.81V1893.51" stroke="#1c3e64" stroke-width="1.6" fill="none"/>
<path d="M182.47 2021.72L182.88 2021.25M253.75 1973.85L255.04 1973.48M279.50 1968.95L355.85 1962.39M380.76 1960.28L457.09 1953.93M482.01 1953.95L558.34 1960.40M583.29 1961.93L659.56 1964.84M684.53 1964.56L760.82 1959.93" stroke="#b68900" stroke-width="2.8" fill="none" stroke-linecap="round"/>
<path d="M170.02 2025.06L180.77 2043.36H159.27Z" fill="#b88a00"/>
<path d="M174.24 2018.92L184.99 2037.22H163.49Z" fill="#b88a00"/>
<path d="M191.11 1999.65L201.86 2017.95H180.36Z" fill="#b88a00"/>
<path d="M207.99 1986.23L218.74 2004.53H197.24Z" fill="#b88a00"/>
<path d="M224.86 1978.24L235.61 1996.54H214.11Z" fill="#b88a00"/>
<path d="M241.74 1965.10L252.49 1983.40H230.99Z" fill="#b88a00"/>
<path d="M267.05 1957.82L277.80 1976.12H256.30Z" fill="#b88a00"/>
<path d="M368.30 1949.11L379.05 1967.41H357.55Z" fill="#b88a00"/>
<path d="M469.55 1940.69L480.30 1958.99H458.80Z" fill="#b88a00"/>
<path d="M570.80 1949.26L581.55 1967.56H560.05Z" fill="#b88a00"/>
<path d="M672.05 1953.11L682.80 1971.41H661.30Z" fill="#b88a00"/>
<path d="M773.30 1946.97L784.05 1965.27H762.55Z" fill="#b88a00"/>
<path d="M185.11 1999.00H197.11M185.11 2024.70H197.11M191.11 1999.00V1999.65M191.11 2017.95V2024.70" stroke="#b68900" stroke-width="1.6" fill="none"/>
<path d="M201.99 1992.72H213.99M201.99 2004.14H213.99" stroke="#b68900" stroke-width="1.6" fill="none"/>
<path d="M218.86 1973.73H230.86M218.86 2007.14H230.86M224.86 1973.73V1978.24M224.86 1996.54V2007.14" stroke="#b68900" stroke-width="1.6" fill="none"/>
<path d="M235.74 1971.59H247.74M235.74 1983.01H247.74" stroke="#b68900" stroke-width="1.6" fill="none"/>
<path d="M261.05 1965.74H273.05M261.05 1974.30H273.05" stroke="#b68900" stroke-width="1.6" fill="none"/>
<path d="M362.30 1950.75H374.30M362.30 1971.88H374.30M368.30 1967.41V1971.88" stroke="#b68900" stroke-width="1.6" fill="none"/>
<path d="M463.55 1948.61H475.55M463.55 1957.17H475.55" stroke="#b68900" stroke-width="1.6" fill="none"/>
<path d="M564.80 1947.18H576.80M564.80 1975.73H576.80M570.80 1947.18V1949.26M570.80 1967.56V1975.73" stroke="#b68900" stroke-width="1.6" fill="none"/>
<path d="M666.05 1961.03H678.05M666.05 1969.59H678.05" stroke="#b68900" stroke-width="1.6" fill="none"/>
<path d="M767.30 1948.75H779.30M767.30 1969.59H779.30M773.30 1965.27V1969.59" stroke="#b68900" stroke-width="1.6" fill="none"/>
<path d="M115.3 1504.8H824.4V2075.8H115.3Z" stroke="#000" stroke-width="2.6" fill="none"/>
<path d="M104.30 2075.80H115.3" stroke="#000" stroke-width="2.4"/>
<text x="94.5" y="2087.10" text-anchor="end" font-family="Liberation Serif" font-size="38">0.0</text>
<path d="M110.00 2004.43H115.3" stroke="#000" stroke-width="2.4"/>
<path d="M104.30 1933.05H115.3" stroke="#000" stroke-width="2.4"/>
<text x="94.5" y="1944.35" text-anchor="end" font-family="Liberation Serif" font-size="38">0.1</text>
<path d="M110.00 1861.68H115.3" stroke="#000" stroke-width="2.4"/>
<path d="M104.30 1790.30H115.3" stroke="#000" stroke-width="2.4"/>
<text x="94.5" y="1801.60" text-anchor="end" font-family="Liberation Serif" font-size="38">0.2</text>
<path d="M110.00 1718.93H115.3" stroke="#000" stroke-width="2.4"/>
<path d="M104.30 1647.55H115.3" stroke="#000" stroke-width="2.4"/>
<text x="94.5" y="1658.85" text-anchor="end" font-family="Liberation Serif" font-size="38">0.3</text>
<path d="M110.00 1576.17H115.3" stroke="#000" stroke-width="2.4"/>
<path d="M104.30 1504.80H115.3" stroke="#000" stroke-width="2.4"/>
<text x="94.5" y="1516.10" text-anchor="end" font-family="Liberation Serif" font-size="38">0.4</text>
<path d="M115.18 2075.8V2081.10" stroke="#000" stroke-width="2.4"/>
<path d="M165.80 2075.8V2086.80" stroke="#000" stroke-width="2.4"/>
<text x="165.80" y="2124.40" text-anchor="middle" font-family="Liberation Serif" font-size="38">0</text>
<path d="M216.43 2075.8V2081.10" stroke="#000" stroke-width="2.4"/>
<path d="M267.05 2075.8V2086.80" stroke="#000" stroke-width="2.4"/>
<text x="267.05" y="2124.40" text-anchor="middle" font-family="Liberation Serif" font-size="38">12</text>
<path d="M317.68 2075.8V2081.10" stroke="#000" stroke-width="2.4"/>
<path d="M368.30 2075.8V2086.80" stroke="#000" stroke-width="2.4"/>
<text x="368.30" y="2124.40" text-anchor="middle" font-family="Liberation Serif" font-size="38">24</text>
<path d="M418.93 2075.8V2081.10" stroke="#000" stroke-width="2.4"/>
<path d="M469.55 2075.8V2086.80" stroke="#000" stroke-width="2.4"/>
<text x="469.55" y="2124.40" text-anchor="middle" font-family="Liberation Serif" font-size="38">36</text>
<path d="M520.17 2075.8V2081.10" stroke="#000" stroke-width="2.4"/>
<path d="M570.80 2075.8V2086.80" stroke="#000" stroke-width="2.4"/>
<text x="570.80" y="2124.40" text-anchor="middle" font-family="Liberation Serif" font-size="38">48</text>
<path d="M621.42 2075.8V2081.10" stroke="#000" stroke-width="2.4"/>
<path d="M672.05 2075.8V2086.80" stroke="#000" stroke-width="2.4"/>
<text x="672.05" y="2124.40" text-anchor="middle" font-family="Liberation Serif" font-size="38">60</text>
<path d="M722.67 2075.8V2081.10" stroke="#000" stroke-width="2.4"/>
<path d="M773.30 2075.8V2086.80" stroke="#000" stroke-width="2.4"/>
<text x="773.30" y="2124.40" text-anchor="middle" font-family="Liberation Serif" font-size="38">72</text>
<path d="M823.92 2075.8V2081.10" stroke="#000" stroke-width="2.4"/>
<text x="470.35" y="2184.80" text-anchor="middle" font-family="Liberation Serif" font-size="38">Time (h)</text>
<text class="nk" transform="translate(35.3 1789.00) rotate(-90)" text-anchor="middle" font-family="Liberation Serif" font-size="38">BPA concentration (mg·L<tspan dx="-3.5" dy="-15.5" font-size="27">-1</tspan><tspan dy="15">)</tspan></text>
<text x="4.0" y="1475.20" font-family="Liberation Sans" font-weight="bold" font-size="30">C</text>
<text x="560.00" y="2051.80" font-family="Liberation Serif" font-size="38">Intestinal juice</text>
<path d="M121.6 1530.6H207.9" stroke="#a20000" stroke-width="2.5" stroke-linecap="round"/>
<rect x="157.45" y="1523.30" width="14.60" height="14.60" fill="#fff" stroke="#a20000" stroke-width="1.8"/>
<text x="217.6" y="1542.90" font-family="Liberation Serif" font-size="38">PP-W</text>
<path d="M121.6 1577.2H207.9" stroke="#1c3e64" stroke-width="2.5" stroke-linecap="round"/>
<circle cx="164.75" cy="1577.20" r="8.2" fill="#fff" stroke="#1c3e64" stroke-width="1.8"/>
<text x="217.6" y="1589.50" font-family="Liberation Serif" font-size="38">PS-W</text>
<path d="M121.6 1624.0H207.9" stroke="#b68900" stroke-width="2.5" stroke-linecap="round"/>
<path d="M164.75 1612.80L175.00 1629.60H154.50Z" fill="#fff" stroke="#b68900" stroke-width="1.8" stroke-linejoin="miter"/>
<text x="217.6" y="1636.30" font-family="Liberation Serif" font-size="38">PA-W</text>
<path d="M325.0 1531.0H356.55M379.55 1531.0H411.1" stroke="#a20000" stroke-width="2.5" stroke-linecap="round"/>
<rect x="359.75" y="1522.70" width="16.60" height="16.60" fill="#a40000"/>
<text x="420.8" y="1543.30" font-family="Liberation Serif" font-size="38">PP-C</text>
<path d="M325.0 1577.5H356.55M379.55 1577.5H411.1" stroke="#1c3e64" stroke-width="2.5" stroke-linecap="round"/>
<circle cx="368.05" cy="1577.50" r="9" fill="#22456a"/>
<text x="420.8" y="1589.80" font-family="Liberation Serif" font-size="38">PS-C</text>
<path d="M325.0 1624.2H356.55M379.55 1624.2H411.1" stroke="#b68900" stroke-width="2.5" stroke-linecap="round"/>
<path d="M368.05 1612.00L378.80 1630.30H357.30Z" fill="#b88a00"/>
<text x="420.8" y="1636.50" font-family="Liberation Serif" font-size="38">PA-C</text>
</svg></body></html>
